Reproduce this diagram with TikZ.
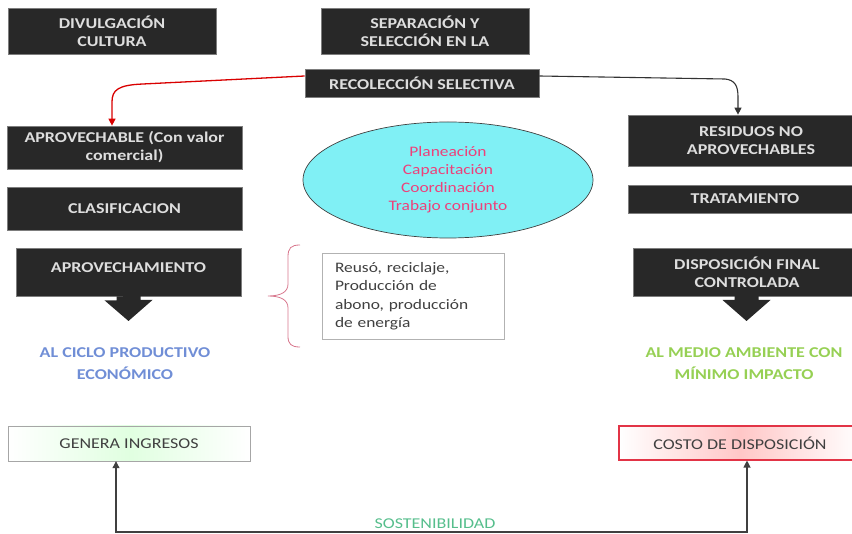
\documentclass[tikz,border=0pt]{standalone}
\usepackage{fontspec}
\setmainfont{Carlito}[FakeStretch=1.2]
\usetikzlibrary{shapes.geometric,arrows.meta}

\definecolor{boxfill}{RGB}{40,40,40}
\definecolor{boxline}{RGB}{125,125,125}
\definecolor{boxtext}{RGB}{222,222,222}
\definecolor{aqua}{RGB}{128,240,245}
\definecolor{pinktext}{RGB}{238,64,122}
\definecolor{bluetext}{RGB}{112,142,214}
\definecolor{greentext}{RGB}{150,208,84}
\definecolor{sosttext}{RGB}{86,190,140}
\definecolor{bracered}{RGB}{216,120,142}
\definecolor{costred}{RGB}{226,52,70}

\begin{document}
\begin{tikzpicture}[x=1pt,y=-1pt,
  darkbox/.style={draw=boxline,line width=0.7pt,fill=boxfill,text=boxtext,
    font=\bfseries\fontsize{15}{18}\selectfont,align=center,inner sep=0pt},
  whitebox/.style={draw=#1,inner sep=0pt,text=black!75,
    font=\fontsize{15}{18}\selectfont},
  bigword/.style={font=\bfseries\fontsize{15}{22}\selectfont,align=center},
  tip/.style={-{Triangle[length=7pt,width=7pt]}}]
\useasboundingbox (0,0) rectangle (852,534);

% top row
\node[darkbox,minimum width=208,minimum height=46] (divul) at (112,31) {DIVULGACIÓN\\CULTURA};
\node[darkbox,minimum width=208,minimum height=46] (separ) at (425,31) {SEPARACIÓN Y\\SELECCIÓN EN LA};
\node[darkbox,minimum width=234,minimum height=28] (recol) at (422,83) {RECOLECCIÓN SELECTIVA};

% left column
\node[darkbox,minimum width=235,minimum height=43] (aprov) at (124.5,147.5) {APROVECHABLE (Con valor\\comercial)};
\node[darkbox,minimum width=235,minimum height=43] (clasif) at (124.5,208.5) {CLASIFICACION};
\node[darkbox,minimum width=225,minimum height=48,text depth=9pt] (aprovm) at (128.5,272) {APROVECHAMIENTO};
\fill[boxfill] (aprovm.south) ++(-12,0) -- ++(0,4) -- ++(-12,0) -- (128.5,321) -- (152.5,300) -- ++(-12,0) -- ++(0,-4) -- cycle;
\node[bigword,text=bluetext] (ciclo) at (125,364) {AL CICLO PRODUCTIVO\\ECONÓMICO};

% centre
\node[ellipse,draw=black!75,line width=0.7pt,fill=aqua,minimum width=290,minimum height=116,
  text=pinktext,align=center,font=\fontsize{14.5}{18}\selectfont] (plan) at (448,180)
  {Planeación\\Capacitación\\Coordinación\\Trabajo conjunto};
\node[whitebox=black!30,fill=white,minimum width=182,minimum height=86,text width=156,align=left,
  font=\fontsize{14.5}{18.5}\selectfont] (reuso) at (413,296)
  {Reusó, reciclaje,\\Producción de\\abono, producción\\de energía};
\draw[bracered,line width=0.8pt] (300,245) .. controls (291,245) and (288,248) .. (288,257) -- (288,284)
  .. controls (288,292) and (281,296) .. (268,296) .. controls (281,296) and (288,300) .. (288,308)
  -- (288,336) .. controls (288,344) and (291,347) .. (300,347);

% right column
\node[darkbox,minimum width=246,minimum height=51] (resid) at (751,140.5) {RESIDUOS NO\\APROVECHABLES};
\node[darkbox,minimum width=234,minimum height=28] (trat) at (745,199) {TRATAMIENTO};
\node[darkbox,minimum width=228,minimum height=48] (dispo) at (747,272) {DISPOSICIÓN FINAL\\CONTROLADA};
\fill[boxfill] (734.5,296) -- ++(0,4) -- ++(-12,0) -- (746.5,321) -- (770.5,300) -- ++(-12,0) -- ++(0,-4) -- cycle;
\node[bigword,text=greentext] (medio) at (744,364) {AL MEDIO AMBIENTE CON\\MÍNIMO IMPACTO};

% bottom row
\node[whitebox=black!35,left color=white,right color=white,middle color=green!12,
  minimum width=242,minimum height=35] (genera) at (129,443.5) {GENERA INGRESOS};
\node[whitebox=costred,line width=1.1pt,left color=white,right color=white,middle color=red!22,
  minimum width=242,minimum height=34] (costo) at (740,443) {COSTO DE DISPOSICIÓN};
\coordinate (sost) at (435,532);
\node[text=sosttext,font=\fontsize{15}{18}\selectfont] (sostlab) at (435,524) {SOSTENIBILIDAD};

% connectors
\draw[red!85!black,line width=1.3pt,tip] ([yshift=7pt]recol.west) -- (143,84)
  .. controls (118,85) and (112,90) .. (112,102) -- ([xshift=-12.5pt]aprov.north);
\draw[black!80,line width=1.1pt,tip] ([yshift=7pt]recol.east) -- (725,79)
  .. controls (735,80) and (738,86) .. (738,97) -- ([xshift=-13pt]resid.north);
\draw[black!75,line width=1.1pt,tip] (sost) -| ([xshift=-13pt]genera.south);
\draw[black!75,line width=1.1pt,tip] (sost) -| ([xshift=7pt]costo.south);
\end{tikzpicture}
\end{document}
